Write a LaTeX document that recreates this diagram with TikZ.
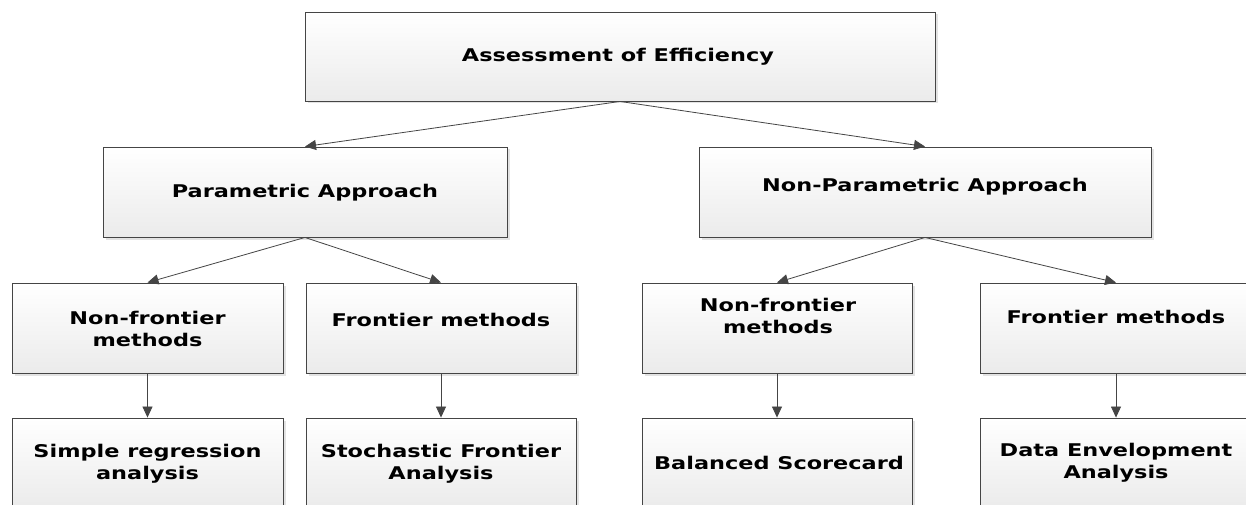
\documentclass[tikz,border=0pt]{standalone}
\usepackage{fontspec}
\newfontfamily\boxfont{DejaVu Sans}[FakeStretch=1.28]
\usetikzlibrary{arrows.meta,shadows}
\definecolor{edgecol}{HTML}{454545}
\definecolor{boxbot}{HTML}{EBEBEB}
\tikzset{
  box/.style={rectangle, draw=edgecol, line width=0.9pt, top color=white, bottom color=boxbot,
    general shadow={shadow xshift=2.5pt, shadow yshift=-2.5pt, fill=gray!22},
    inner sep=0pt},
  lbl/.style={font=\boxfont\bfseries\fontsize{17.5}{22}\selectfont, align=center, inner sep=0pt, text=black},
  conn/.style={draw=edgecol, line width=0.8pt, -{Triangle[length=11pt,width=10pt]}, edgecol}
}
\begin{document}
\begin{tikzpicture}[x=1pt,y=-1pt]
\useasboundingbox[fill=white] (0,0) rectangle (1246,505);
% boxes
\node[box, minimum width=630pt, minimum height=89pt] (top) at (620,56.5) {};
\node[box, minimum width=404pt, minimum height=90pt] (par) at (305,192) {};
\node[box, minimum width=452pt, minimum height=90pt] (npar) at (925,192) {};
\node[box, minimum width=271pt, minimum height=90pt] (nfa) at (147.5,328) {};
\node[box, minimum width=270pt, minimum height=90pt] (fa) at (441,328) {};
\node[box, minimum width=270pt, minimum height=90pt] (nfb) at (777,328) {};
\node[box, minimum width=272pt, minimum height=90pt] (fb) at (1116,328) {};
\node[box, minimum width=271pt, minimum height=90pt] (sra) at (147.5,463) {};
\node[box, minimum width=270pt, minimum height=90pt] (sfa) at (441,463) {};
\node[box, minimum width=270pt, minimum height=90pt] (bsc) at (777,463) {};
\node[box, minimum width=272pt, minimum height=90pt] (dea) at (1116,463) {};
% texts
\node[lbl] (ttop) at (618,57) {Assessment of Efficiency};
\node[lbl] (tpar) at (305,193) {Parametric Approach};
\node[lbl] (tnpar) at (925,187) {Non-Parametric Approach};
\node[lbl] (tnfa) at (147.5,329) {Non-frontier\\methods};
\node[lbl] (tfa) at (441,320) {Frontier methods};
\node[lbl] (tnfb) at (778,316) {Non-frontier\\methods};
\node[lbl] (tfb) at (1116,317) {Frontier methods};
\node[lbl] (tsra) at (147.5,464) {Simple regression\\analysis};
\node[lbl] (tsfa) at (441,463.5) {Stochastic Frontier\\Analysis};
\node[lbl] (tbsc) at (779,463) {Balanced Scorecard};
\node[lbl] (tdea) at (1116,463) {Data Envelopment\\Analysis};
% connectors
\draw[conn] (top.south) -- (par.north);
\draw[conn] (top.south) -- (npar.north);
\draw[conn] (par.south) -- (nfa.north);
\draw[conn] (par.south) -- (fa.north);
\draw[conn] (npar.south) -- (nfb.north);
\draw[conn] (npar.south) -- (fb.north);
\draw[conn] (nfa.south) -- (sra.north);
\draw[conn] (fa.south) -- (sfa.north);
\draw[conn] (nfb.south) -- (bsc.north);
\draw[conn] (fb.south) -- (dea.north);
\end{tikzpicture}
\end{document}
